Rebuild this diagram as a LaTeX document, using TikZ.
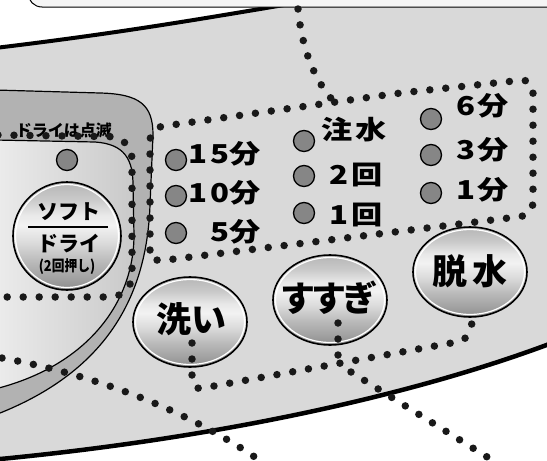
\documentclass[tikz,border=0pt]{standalone}
\usepackage{fontspec}
\newfontfamily\jp{Noto Sans CJK JP}
\newfontfamily\jpw{Noto Sans CJK JP}[FakeStretch=1.2]
\newfontfamily\jpn{Noto Sans CJK JP}[FakeStretch=0.85]
\usetikzlibrary{shapes.geometric}
\pgfdeclareverticalshading{btnshade}{100bp}{color(0bp)=(gray!90); color(25bp)=(gray!90); color(30bp)=(gray!75); color(38bp)=(gray!55); color(47bp)=(gray!28); color(55bp)=(gray!10); color(60bp)=(gray!18); color(67bp)=(gray!42); color(75bp)=(gray!58); color(100bp)=(gray!58)}
\begin{document}
\begin{tikzpicture}[x=1pt,y=-1pt,
  dotline/.style={draw=black!90, line width=7.5pt, line cap=round, dash pattern=on 0pt off 16pt},
  led/.style={circle, draw, line width=1.3pt, fill=gray!95, minimum size=21pt, inner sep=0pt},
  btn/.style={ellipse, draw, line width=1.6pt, shading=btnshade, minimum width=114pt, minimum height=90pt, inner sep=0pt},
  lbl/.style={inner sep=0pt, font=\jpw\bfseries\fontsize{26}{26}\selectfont},
  btnlbl/.style={inner sep=0pt, font=\jp\bfseries\fontsize{35}{35}\selectfont},
  ring/.style={white, line width=1.2pt}
]
\useasboundingbox (0,0) rectangle (547,461);
\fill[white] (0,0) rectangle (547,461);
% panel
\fill[gray!30] (-5,48) .. controls (120,33) and (200,19) .. (290,4) -- (560,4) -- (560,340) -- (552,343) .. controls (400,400) and (200,440) .. (-5,459.5) -- cycle;
% dark band
\draw[fill=gray!60, line width=1.2pt] (-5,90) -- (100,93) .. controls (140,94) and (153,105) .. (153,135) -- (150,205) .. controls (147,290) and (112,370) .. (-5,415) -- cycle;
% inner area
\draw[left color=gray!15, right color=gray!42, line width=1.2pt] (-5,140) -- (95,142) .. controls (125,144) and (133,160) .. (133,185) -- (134,235) .. controls (134,300) and (90,365) .. (-5,389) -- cycle;
% thick edges
\draw[line width=4pt] (-5,48) .. controls (120,33) and (200,19) .. (290,4);
\draw[line width=4.5pt] (-5,459.5) .. controls (200,440) and (400,400) .. (552,343);
% top box
\draw[fill=gray!8, line width=1pt, rounded corners=14pt] (28,-30) rectangle (580,7);

% LEDs
\node[led] (ledD) at (67,160) {};
\node[led] (l15) at (176,160) {};
\node[led] (l10) at (176,196) {};
\node[led] (l5) at (176,233) {};
\node[led] (lfill) at (304,141) {};
\node[led] (l2r) at (304,176) {};
\node[led] (l1r) at (304,213) {};
\node[led] (l6) at (431,119) {};
\node[led] (l3) at (431,155) {};
\node[led] (l1) at (431,193) {};

% LED labels
\node[inner sep=0pt, font=\jp\bfseries\fontsize{16}{16}\selectfont] (tblink) at (64,130) {ドライは点滅};
\node[lbl, anchor=east] (t15) at (261,154) {1\kern3pt 5分};
\node[lbl, anchor=east] (t10) at (261,193) {1\kern3pt 0分};
\node[lbl, anchor=east] (t5) at (261,232) {5分};
\node[lbl, anchor=west] (tfill) at (321,130) {注\kern3pt 水};
\node[lbl, anchor=west] (t2r) at (329,175) {2\kern3pt 回};
\node[lbl, anchor=west] (t1r) at (329,215) {1\kern3pt 回};
\node[lbl, anchor=west] (t6) at (456,106) {6\kern2pt 分};
\node[lbl, anchor=west] (t3) at (456,150) {3\kern2pt 分};
\node[lbl, anchor=west] (t1) at (456,190) {1\kern2pt 分};

% buttons
\node[btn, minimum width=108pt, minimum height=108pt] (soft) at (67,236) {};
\node[btn] (wash) at (190,322) {};
\node[btn] (rinse) at (330,300) {};
\node[btn] (spin) at (470,272) {};
\draw[ring] (soft.center) ellipse [x radius=51.5, y radius=51.5];
\draw[ring] (wash.center) ellipse [x radius=54.5, y radius=42.5];
\draw[ring] (rinse.center) ellipse [x radius=54.5, y radius=42.5];
\draw[ring] (spin.center) ellipse [x radius=54.5, y radius=42.5];

% button labels
\node[inner sep=0pt, font=\jp\bfseries\fontsize{21}{21}\selectfont] (tsoft) at (69,212) {ソフト};
\draw[line width=2pt] (28,227) -- (108,227);
\node[inner sep=0pt, font=\jp\bfseries\fontsize{21}{21}\selectfont] (tdry) at (69,244) {ドライ};
\node[inner sep=0pt, font=\jpn\bfseries\fontsize{15}{15}\selectfont] (tpush) at (67,267) {(2回押し)};
\node[btnlbl] (twash) at (191,319) {洗い};
\node[btnlbl] (trinse) at (329,298) {す\kern-4pt す\kern-4pt ぎ};
\node[btnlbl] (tspin) at (470,271) {脱\kern5pt 水};

% dotted lines
\draw[dotline] (298,9) .. controls (302,50) and (315,82) .. (336,104);
\draw[dotline, rounded corners=12pt] (150,262) -- (150,128) -- (400,93) -- (533,79) -- (533,215) -- cycle;
\draw[dotline, rounded corners=22pt] (-2,135) -- (132,137) -- (132,297) -- (-2,297);
\draw[dotline] (2,358) .. controls (90,374) and (185,408) .. (262,462);
\draw[dotline, rounded corners=10pt] (192,343) -- (192,390) -- (468,340) -- (474,314);
\draw[dotline] (338,323) -- (338,362);
\draw[dotline] (351,372) -- (500,465);
\end{tikzpicture}
\end{document}
